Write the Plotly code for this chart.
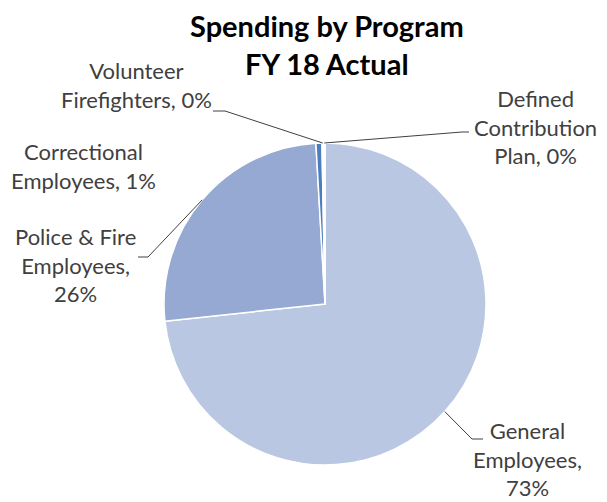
import math
import plotly.graph_objects as go

# ---- data ----
programs = ["General Employees", "Police & Fire Employees", "Correctional Employees",
            "Volunteer Firefighters", "Defined Contribution Plan"]
shares = [73.3, 25.8, 0.6, 0.15, 0.15]
label_text = ["General<br>Employees,<br>73%", "Police & Fire<br>Employees,<br>26%",
              "Correctional<br>Employees, 1%", "Volunteer<br>Firefighters, 0%",
              "Defined<br>Contribution<br>Plan, 0%"]
colors = ["#BAC7E2", "#95A9D2", "#4D7DBF", "#A6BCE4", "#D3DCEF"]

OFF = 8  # page body margin offset
W, H = 607 - OFF, 502 - OFF
CX, CY, R = 325, 304, 161  # pie centre/radius in window px

dom_x = [(CX - OFF - R) / W, (CX - OFF + R) / W]
dom_y = [(H - (CY - OFF) - R) / H, (H - (CY - OFF) + R) / H]

fig = go.Figure(go.Pie(
    labels=programs, values=shares, sort=False, direction="clockwise", rotation=0,
    marker=dict(colors=colors, line=dict(color="white", width=1.5)),
    textinfo="none", hoverinfo="label+percent", showlegend=False,
    domain=dict(x=dom_x, y=dom_y),
))

def px(x, y):
    return (x - OFF) / W, 1 - (y - OFF) / H

# label centres (window px) and leader knee/end (window px) -- layout only
label_pos = [(527, 459), (75, 265), (83, 166), (136, 85), (535, 127)]
leaders = [((472, 439), (483, 439)), ((148, 257), (138, 257)), None,
           ((225, 111), (213, 111)), ((462, 132), (469, 132))]

font_lbl = dict(family="Lato, Calibri, sans-serif", size=22, color="#404040")
annotations = []
shapes = []
total = sum(shares)
cum = 0.0
for i, v in enumerate(shares):
    mid = (cum + v / 2) / total * 2 * math.pi
    cum += v
    ex = CX + R * math.sin(mid)
    ey = CY - R * math.cos(mid)
    lx, ly = label_pos[i]
    ax, ay = px(lx, ly)
    annotations.append(dict(x=ax, y=ay, xref="paper", yref="paper", text=label_text[i],
                            showarrow=False, font=font_lbl, align="center",
                            xanchor="center", yanchor="middle"))
    if leaders[i] is not None:
        (kx, ky), (qx, qy) = leaders[i]
        p0 = px(ex, ey); p1 = px(kx, ky); p2 = px(qx, qy)
        shapes.append(dict(type="path", xref="paper", yref="paper",
                           path=f"M {p0[0]} {p0[1]} L {p1[0]} {p1[1]} L {p2[0]} {p2[1]}",
                           line=dict(color="#404040", width=1)))

tx, ty = px(327, 44)
annotations.append(dict(x=tx, y=ty, xref="paper", yref="paper",
                        text="<b>Spending by Program<br>FY 18 Actual</b>", showarrow=False,
                        font=dict(family="Lato, Calibri, sans-serif", size=29, color="#000000"),
                        align="center", xanchor="center", yanchor="middle"))

fig.update_layout(width=W, height=H, margin=dict(l=0, r=0, t=0, b=0),
                  paper_bgcolor="white", plot_bgcolor="white",
                  annotations=annotations, shapes=shapes)

fig.write_html("out.html")
